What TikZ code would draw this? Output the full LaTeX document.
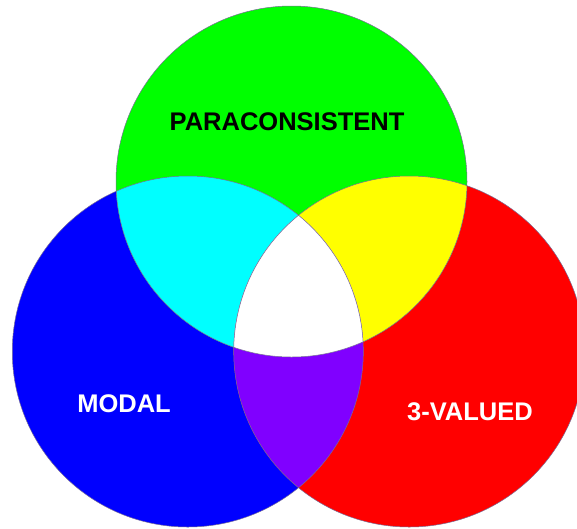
\documentclass[tikz,border=0pt]{standalone}
\usepackage{fontspec}
\setmainfont{Liberation Sans}
\definecolor{vgreen}{RGB}{0,255,0}
\definecolor{vblue}{RGB}{0,0,255}
\definecolor{vred}{RGB}{255,0,0}
\definecolor{vcyan}{RGB}{0,255,255}
\definecolor{vyellow}{RGB}{255,255,0}
\definecolor{vpurple}{RGB}{128,0,255}
\definecolor{vrim}{RGB}{120,110,150}

\begin{document}
\begin{tikzpicture}[x=1pt, y=-1pt,
  lbl/.style={font=\fontsize{25.5}{28}\selectfont\bfseries, inner sep=0pt},
  rim/.style={draw=vrim, line width=0.5pt}
]
\useasboundingbox (0,0) rectangle (577,528);
\clip (0,0) rectangle (577,528);
\fill[white] (0,0) rectangle (577,528);

% Circles
\def\gcirc{(291.5,181.5) circle[radius=175.5pt]}
\def\bcirc{(187.8,351.5) circle[radius=175.5pt]}
\def\rcirc{(409.2,351.5) circle[radius=175.5pt]}

\fill[vblue]  \bcirc;
\fill[vred]   \rcirc;
\fill[vgreen] \gcirc;

% Overlaps
\begin{scope}
  \clip \gcirc;
  \fill[vcyan] \bcirc;
  \fill[vyellow] \rcirc;
\end{scope}
\begin{scope}
  \clip \bcirc;
  \fill[vpurple] \rcirc;
  \clip \rcirc;
  \fill[white] \gcirc;
\end{scope}

% Rims
\draw[rim] \gcirc;
\draw[rim] \bcirc;
\draw[rim] \rcirc;

% Labels
\node[lbl]              (para)  at (287,122) {PARACONSISTENT};
\node[lbl, text=white]  (modal) at (124,404) {MODAL};
\node[lbl, text=white]  (three) at (470,412) {3-VALUED};
\end{tikzpicture}
\end{document}
